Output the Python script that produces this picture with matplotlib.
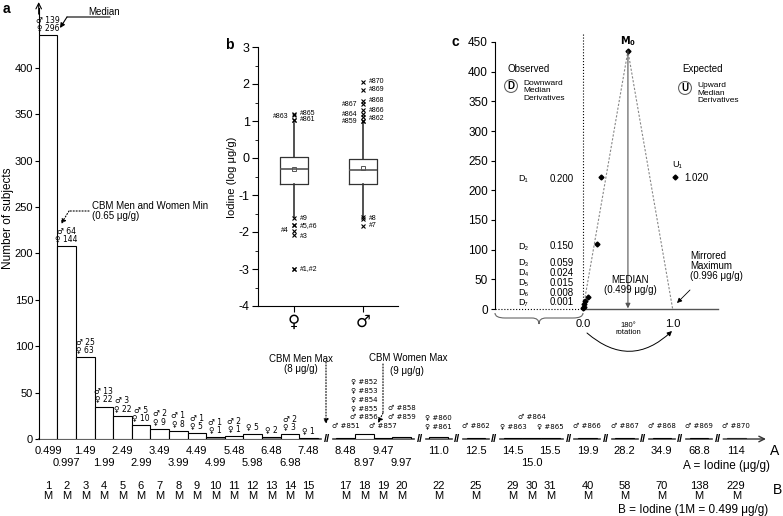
import numpy as np
import matplotlib.pyplot as plt
from matplotlib.path import Path
from matplotlib.patches import PathPatch, FancyArrowPatch

plt.rcParams['font.family'] = ['Liberation Sans', 'DejaVu Sans']
plt.rcParams['axes.linewidth'] = 0.8
plt.rcParams['axes.unicode_minus'] = False

W, H = 783, 516
SYM = ['DejaVu Sans']   # bigger male/female signs than Liberation

# ---- panel a: histogram of iodine, in multiples of the median (M) ----
bar_slot = list(range(1, 16)) + [17, 18, 19, 20, 22, 24, 26, 27, 28, 30, 32, 34, 36, 38]
bar_m = list(range(1, 16)) + [17, 18, 19, 20, 22, 25, 29, 30, 31, 40, 58, 70, 138, 229]
male = [139, 64, 25, 13, 3, 5, 2, 1, 1, 1, 2, 0, 0, 2, 0]
female = [296, 144, 63, 22, 22, 10, 9, 8, 5, 1, 1, 5, 2, 3, 1]
tail_count = [1, 5, 1, 2, 2, 1, 1, 1, 1, 1, 1, 1, 1, 1]
iodine_a = ['0.499', '0.997', '1.49', '1.99', '2.49', '2.99', '3.49', '3.99',
            '4.49', '4.99', '5.48', '5.98', '6.48', '6.98', '7.48',
            '8.48', '8.97', '9.47', '9.97', '11.0', '12.5', '14.5', '15.0',
            '15.5', '19.9', '28.2', '34.9', '68.8', '114']
a_row = [0, 1] * 7 + [0] + [0, 1, 0, 1] + [0, 0, 0, 1, 0, 0, 0, 0, 0, 0]
break_slot = [16, 21, 23, 25, 29, 31, 33, 35, 37]
tail_ids = [
    ['♂ #851'],
    ['♂ #856', '♀ #855', '♀ #854', '♀ #853', '♀ #852'],
    ['♂ #857'],
    ['♂ #859', '♂ #858'],
    ['♀ #861', '♀ #860'],
    ['♂ #862'],
    ['♀ #863'],
    ['♂ #864'],
    ['♀ #865'],
    ['♂ #866'], ['♂ #867'], ['♂ #868'], ['♂ #869'], ['♂ #870'],
]
tail_lift = [0, 1, 0, 1, 0, 0, 0, 1, 0, 0, 0, 0, 0, 0]

# ---- panel b: box plots of log iodine ----
box_f = [-1.60, -0.70, -0.30, 0.02, 0.95]   # whislo, q1, med, q3, whishi
box_m = [-1.60, -0.69, -0.33, -0.02, 0.98]
mean_f, mean_m = -0.30, -0.27
out_f = [1.19, 1.16, 1.04, 1.04, -1.63, -1.82, -1.82, -1.97, -2.08, -3.0, -3.0]
out_m = [2.06, 1.84, 1.54, 1.45, 1.30, 1.18, 1.10, 1.0, 1.0, -1.60, -1.65, -1.83]
lab_f_y = [1.21, 1.12, 1.05, -1.63, -1.82, -1.96, -2.13, -3.0]
lab_f = ['#865', '#863', '#861', '#9', '#5,#6', '#4', '#3', '#1,#2']
lab_f_side = [1, -1, 1, 1, 1, -1, 1, 1]
lab_m_y = [2.06, 1.84, 1.56, 1.44, 1.28, 1.17, 1.08, 0.98, -1.63, -1.83]
lab_m = ['#870', '#869', '#868', '#867', '#866', '#864', '#862', '#859', '#8', '#7']
lab_m_side = [1, 1, 1, -1, 1, -1, 1, -1, 1, 1]

# ---- panel c: median derivatives ----
d_val = [0.200, 0.150, 0.059, 0.024, 0.015, 0.008, 0.001]
d_cnt = [222, 110, 20, 13, 8, 4, 1]
d_lab_y = [179, 246, 263, 273, 283, 293, 302]
m0_x, m0_y = 0.499, 435
u1_x, u1_y = 1.020, 222
mirror_max = 0.996

fig = plt.figure(figsize=(W / 100, H / 100), dpi=100)


def fp(x, y):
    # pixel position in the reference -> figure fraction
    return x / W, 1 - y / H


def ftext(x, y, s, **kw):
    fig.text(x / W, 1 - y / H, s, **kw)


def farrow(x0, y0, x1, y1, style='->', ls='-', lw=0.8, color='black'):
    fig.add_artist(FancyArrowPatch(
        fp(x0, y0), fp(x1, y1), transform=fig.transFigure,
        arrowstyle=style, linestyle=ls, lw=lw, color=color,
        mutation_scale=7, shrinkA=0, shrinkB=0))


# ================= panel a =================
ax = fig.add_axes([38.7 / W, 1 - 439 / H, 734.7 / W, 436 / H])
ax.set_facecolor('none')
ax.set_xlim(0.5, 40)
ax.set_ylim(0, 470)
for s in ['top', 'right', 'bottom']:
    ax.spines[s].set_visible(False)
ax.spines['left'].set_bounds(0, 465)
ax.annotate('', xy=(0.5, 474), xytext=(0.5, 455),
            arrowprops=dict(arrowstyle='->', lw=0.8), annotation_clip=False)
ax.set_yticks(range(0, 401, 50))
ax.tick_params(axis='y', labelsize=8, length=3, width=0.8, pad=1)

heights = [m + f for m, f in zip(male, female)] + tail_count
colors = ['#8c8c8c' if h == 2 else 'white' for h in heights]
ax.bar(bar_slot, heights, width=1.0, color=colors, edgecolor='black', lw=0.8, zorder=3)

# broken x axis
edges = [0.5] + break_slot
for i in range(len(edges)):
    x0 = edges[i] + (0.3 if i > 0 else 0)
    if i < len(break_slot):
        ax.plot([x0, edges[i + 1] - 0.3], [0, 0], color='#444', lw=1.2, zorder=2, clip_on=False)
    else:
        ax.annotate('', xy=(39.6, 0), xytext=(x0, 0),
                    arrowprops=dict(arrowstyle='->', lw=1.0, color='#333',
                                    shrinkA=0, shrinkB=0), annotation_clip=False)
for b in break_slot:
    ax.text(b, 0, '//', ha='center', va='center', fontsize=8, fontweight='bold')

for s, m, f, h in zip(bar_slot[:15], male, female, heights[:15]):
    txt = f'♀ {f}' if m == 0 else f'♂ {m}\n♀ {f}'
    ax.annotate(txt, xy=(s, h), xytext=(0, 1.5), textcoords='offset points',
                ha='center', va='bottom', fontsize=5.5, linespacing=0.9, family=SYM)

for s, ids, lift in zip(bar_slot[15:], tail_ids, tail_lift):
    for k, t in enumerate(ids):
        ax.text(s, 14 + 9.7 * (lift + k), t, ha='center', va='center', fontsize=5, family=SYM)

maj = [s for s, r in zip(bar_slot, a_row) if r == 0]
maj_l = [t for t, r in zip(iodine_a, a_row) if r == 0]
mnr = [s for s, r in zip(bar_slot, a_row) if r == 1]
mnr_l = [t for t, r in zip(iodine_a, a_row) if r == 1]
ax.set_xticks(maj, labels=maj_l)
ax.set_xticks(mnr, labels=mnr_l, minor=True)
ax.tick_params(axis='x', which='both', length=0, labelsize=8)
ax.tick_params(axis='x', which='major', pad=5)
ax.tick_params(axis='x', which='minor', pad=14)

for s, m in zip(bar_slot, bar_m):
    ax.text(s, -0.119, f'{m}\nM', transform=ax.get_xaxis_transform(),
            ha='center', va='center', fontsize=8, linespacing=0.95)

ftext(8, 218, 'Number of subjects', rotation=90, ha='center', va='center', fontsize=8.5)
ftext(3, 9, 'a', fontsize=10, fontweight='bold', ha='left', va='center')
ftext(775, 451, 'A', fontsize=10, ha='center', va='center')
ftext(778, 490, 'B', fontsize=10, ha='center', va='center')
ftext(770, 466, 'A = Iodine (μg/g)', fontsize=8.5, ha='right', va='center')
ftext(768, 510, 'B = Iodine (1M = 0.499 μg/g)', fontsize=8.5, ha='right', va='center')

# annotations
ftext(88, 12, 'Median', fontsize=7, ha='left', va='center')
farrow(110, 17, 67, 17, style='-')
farrow(67, 17, 60, 28, style='-|>')
ftext(92, 201, 'CBM Men and Women Min\n(0.65 μg/g)', fontsize=7, ha='left', va='top',
      linespacing=1.05)
farrow(89, 211, 69, 211, style='-', ls=':')
farrow(69, 211, 61, 224, style='-|>', ls=':')
ftext(301, 364, 'CBM Men Max\n(8 μg/g)', fontsize=7, ha='center', va='center', linespacing=1.1)
farrow(326, 362, 326, 424, style='-|>', ls=':')
ftext(408, 358, 'CBM Women Max', fontsize=7, ha='center', va='center')
ftext(390, 371, '(9 μg/g)', fontsize=7, ha='left', va='center')
farrow(383, 364, 383, 413, style='-', ls=':')
farrow(383, 413, 378, 423, style='-|>', ls=':')

# ================= panel b =================
ax_b = fig.add_axes([258 / W, 1 - 306 / H, 140 / W, 259 / H])
ax_b.set_facecolor('none')
ax_b.set_xlim(0.478, 2.507)
ax_b.set_ylim(-4, 3)
for s in ['top', 'right']:
    ax_b.spines[s].set_visible(False)
stats = []
for bx, mn in [(box_f, mean_f), (box_m, mean_m)]:
    stats.append(dict(whislo=bx[0], q1=bx[1], med=bx[2], q3=bx[3], whishi=bx[4],
                      mean=mn, fliers=[]))
ax_b.bxp(stats, positions=[1, 2], widths=0.4, showmeans=True, showcaps=False,
         showfliers=False,
         boxprops=dict(color='#333', lw=0.9),
         whiskerprops=dict(color='#333', lw=1.2),
         medianprops=dict(color='#555', lw=1.2),
         meanprops=dict(marker='s', ms=3, mfc='none', mec='#555', mew=0.7))
ax_b.plot([1] * len(out_f), out_f, 'x', ms=3, mew=0.8, color='black', clip_on=False)
ax_b.plot([2] * len(out_m), out_m, 'x', ms=3, mew=0.8, color='black', clip_on=False)
for pos, ys, ls_, sd in [(1, lab_f_y, lab_f, lab_f_side), (2, lab_m_y, lab_m, lab_m_side)]:
    for y, t, sgn in zip(ys, ls_, sd):
        ax_b.text(pos + 0.08 * sgn, y, t, fontsize=5, va='center',
                  ha='left' if sgn > 0 else 'right')
ax_b.set_yticks(range(-4, 4))
ax_b.set_yticks(np.arange(-3.5, 3, 1), minor=True)
ax_b.tick_params(axis='y', which='major', length=4, labelsize=9, pad=2)
ax_b.tick_params(axis='y', which='minor', length=2)
ax_b.set_xticks([1, 2], labels=['♀', '♂'], family=SYM)
ax_b.tick_params(axis='x', length=4, pad=1, labelsize=12)
ftext(232, 177, 'Iodine (log μg/g)', rotation=90, ha='center', va='center', fontsize=8)
ftext(229, 45, 'b', fontsize=10, fontweight='bold', ha='center', va='center')

# ================= panel c =================
ax_c = fig.add_axes([495 / W, 1 - 309 / H, 225 / W, 267 / H])
ax_c.set_facecolor('none')
ax_c.set_xlim(-0.978, 1.522)
ax_c.set_ylim(0, 450)
for s in ['top', 'right', 'bottom']:
    ax_c.spines[s].set_visible(False)
ax_c.set_yticks(range(0, 451, 50))
ax_c.tick_params(axis='y', labelsize=8.5, length=3, pad=2)
ax_c.set_xticks([0, 1], labels=['0.0', '1.0'])
ax_c.tick_params(axis='x', length=0, labelsize=8, pad=7)

ax_c.plot([-0.978, 0], [0, 0], ls=':', color='black', lw=0.8, clip_on=False)
ax_c.plot([0, 1.5], [0, 0], color='#555', lw=1.0, clip_on=False)
ax_c.plot([0, 0], [0, 465], ls=':', color='black', lw=0.8, clip_on=False)
ax_c.plot([0, m0_x, mirror_max], [0, m0_y, 0], ls=(0, (2, 1.5)), color='#888', lw=0.8)
ax_c.annotate('', xy=(m0_x, 1), xytext=(m0_x, m0_y),
              arrowprops=dict(arrowstyle='-|>', color='#555', lw=0.8,
                              mutation_scale=7, shrinkA=0, shrinkB=0))
ax_c.plot(d_val, d_cnt, 'D', ms=2.5, color='black', clip_on=False)
ax_c.plot([m0_x, u1_x], [m0_y, u1_y], 'D', ms=2.5, color='black', ls='none')
ax_c.text(m0_x, m0_y + 5, r'$\mathbf{M_0}$', ha='center', va='bottom', fontsize=7)

for i, (v, y) in enumerate(zip(d_val, d_lab_y)):
    ftext(518, y, 'D' + '₁₂₃₄₅₆₇'[i], fontsize=6.5, ha='left', va='center')
    ftext(574, y, f'{v:.3f}', fontsize=7, ha='right', va='center')
ftext(672, 165, 'U₁', fontsize=6.5, ha='left', va='center')
ftext(684, 178, f'{u1_x:.3f}', fontsize=7, ha='left', va='center')

ftext(455, 42, 'c', fontsize=10, fontweight='bold', ha='center', va='center')
ftext(507, 69, 'Observed', fontsize=7, ha='left', va='center')
ftext(682, 69, 'Expected', fontsize=7, ha='left', va='center')
circ = dict(boxstyle='circle,pad=0.15', fc='white', ec='#666', lw=0.8)
ftext(511, 86, 'D', fontsize=7, fontweight='bold', ha='center', va='center', bbox=circ)
ftext(685, 88, 'U', fontsize=7, fontweight='bold', ha='center', va='center', bbox=circ)
ftext(523, 80, 'Downward\nMedian\nDerivatives', fontsize=6, ha='left', va='top', linespacing=1.1)
ftext(697, 82, 'Upward\nMedian\nDerivatives', fontsize=6, ha='left', va='top', linespacing=1.1)
ftext(690, 266, 'Mirrored\nMaximum\n(0.996 μg/g)', fontsize=7, ha='left', va='center', linespacing=1.05)
farrow(690, 290, 677, 303, style='-|>', lw=0.6)
ftext(630, 285, 'MEDIAN\n(0.499 μg/g)', fontsize=7, ha='center', va='center', linespacing=1.05)
ftext(628, 329, '180°\nrotation', fontsize=5.5, ha='center', va='center', linespacing=1.1)
fig.add_artist(FancyArrowPatch(
    fp(587, 333), fp(672, 331), transform=fig.transFigure,
    arrowstyle='-|>', connectionstyle='arc3,rad=0.45', lw=0.7, color='black',
    mutation_scale=7, shrinkA=0, shrinkB=0))

# curly brace under the observed side
brace = [(495, 313), (495, 318), (505, 318), (532, 318), (539, 318), (539, 324),
         (539, 318), (546, 318), (573, 318), (583, 318), (583, 313)]
codes = [Path.MOVETO, Path.CURVE3, Path.CURVE3, Path.LINETO, Path.CURVE3, Path.CURVE3,
         Path.CURVE3, Path.CURVE3, Path.LINETO, Path.CURVE3, Path.CURVE3]
fig.add_artist(PathPatch(Path([fp(x, y) for x, y in brace], codes),
                         transform=fig.transFigure, fc='none', ec='#666', lw=0.8))

fig.savefig('out.png', dpi=100)
